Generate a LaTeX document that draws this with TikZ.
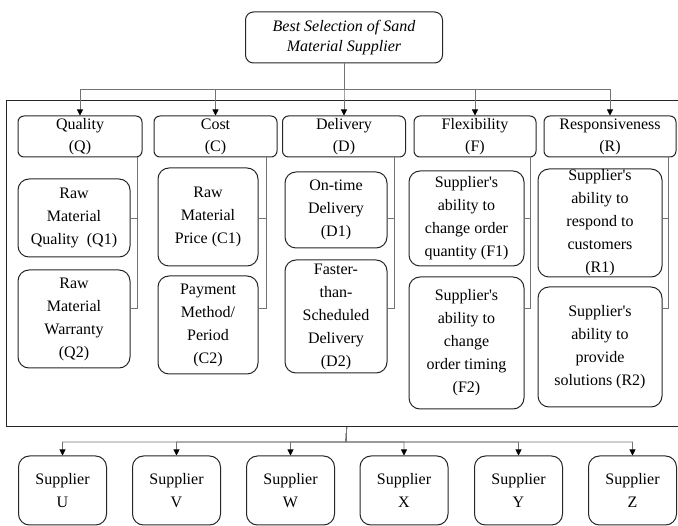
\documentclass[tikz,border=0pt]{standalone}
\usepackage{fontspec}
\setmainfont{Liberation Serif}
\usetikzlibrary{arrows.meta}

\begin{document}
\begin{tikzpicture}[x=1pt,y=-1pt,
    goal/.style={draw=black!85,line width=1pt,rounded corners=8pt,align=center,inner sep=0pt,
      minimum width=197pt,minimum height=51pt,font=\fontsize{16}{20}\selectfont\itshape},
    crit/.style={draw=black!85,line width=1pt,rounded corners=6pt,align=center,inner sep=0pt,
      minimum height=41pt,font=\fontsize{16}{22}\selectfont},
    sub/.style={draw=black!85,line width=1pt,rounded corners=11pt,align=center,inner sep=0pt,
      font=\fontsize{16}{23}\selectfont},
    alt/.style={draw=black!85,line width=1pt,rounded corners=11pt,align=center,inner sep=0pt,
      minimum width=88pt,minimum height=69pt,font=\fontsize{16}{23}\selectfont},
    frame/.style={draw=black!85,line width=1.3pt,inner sep=0pt},
    link/.style={draw=black!55,line width=0.8pt}]
  \useasboundingbox (0,0) rectangle (678,526);
  \draw
    (344,37.5) node[goal] (goal){Best Selection of Sand\\Material Supplier}
    (6,100) node[frame,anchor=north west,minimum width=680pt,minimum height=326pt] (criteria){}
    (80,136.5) node[crit,minimum width=124pt] (Q){Quality\\(Q)}
    (215.5,136.5) node[crit,minimum width=123pt] (C){Cost\\(C)}
    (344,136.5) node[crit,minimum width=123pt] (D){Delivery\\(D)}
    (475,136.5) node[crit,minimum width=122pt] (F){Flexibility\\(F)}
    (610,136.5) node[crit,minimum width=132pt] (R){Responsiveness\\(R)};
  \draw
    (74,218) node[sub,minimum width=112pt,minimum height=78pt] (Q1){Raw\\Material\\Quality\ \ (Q1)}
    (74,319) node[sub,minimum width=112pt,minimum height=98pt] (Q2){Raw\\Material\\Warranty\\(Q2)}
    (208,217) node[sub,minimum width=100pt,minimum height=98pt] (C1){Raw\\Material\\Price (C1)}
    (208,325) node[sub,minimum width=100pt,minimum height=98pt] (C2){Payment\\Method/\\Period\\(C2)}
    (336,210) node[sub,minimum width=102pt,minimum height=76pt] (D1){On-time\\Delivery\\(D1)}
    (336,316.5) node[sub,minimum width=102pt,minimum height=113pt] (D2){Faster-\\than-\\Scheduled\\Delivery\\(D2)}
    (466.5,218.5) node[sub,minimum width=115pt,minimum height=95pt] (F1){Supplier\textquotesingle s\\ability to\\change order\\quantity (F1)}
    (466.5,343) node[sub,minimum width=115pt,minimum height=132pt] (F2){Supplier\textquotesingle s\\ability to\\change\\order timing\\(F2)}
    (600,223) node[sub,minimum width=124pt,minimum height=108pt] (R1){Supplier\textquotesingle s\\ability to\\respond to\\customers\\(R1)}
    (600,347) node[sub,minimum width=124pt,minimum height=120pt] (R2){Supplier\textquotesingle s\\ability to\\provide\\solutions (R2)};
  \draw
    (62.5,490.5) node[alt] (U){Supplier\\U}
    (176.5,490.5) node[alt] (V){Supplier\\V}
    (290.5,490.5) node[alt] (W){Supplier\\W}
    (404,490.5) node[alt] (X){Supplier\\X}
    (518.5,490.5) node[alt] (Y){Supplier\\Y}
    (632.5,490.5) node[alt] (Z){Supplier\\Z};
  \coordinate (topbus) at (344,89);
  \coordinate (lowbus) at (346,442);
  \coordinate (high) at (0,218);
  \coordinate (low) at (0,308);
  \begin{scope}[link,-{Triangle[length=6pt,width=6pt,color=black]}]
    \draw (goal.south) -- (topbus) -| (Q.north);
    \draw (goal.south) -- (topbus) -| (C.north);
    \draw (goal.south) -- (topbus) -| (D.north);
    \draw (goal.south) -- (topbus) -| (F.north);
    \draw (goal.south) -- (topbus) -| (R.north);
    \draw (criteria.south) -- (lowbus) -| (U.north);
    \draw (criteria.south) -- (lowbus) -| (V.north);
    \draw (criteria.south) -- (lowbus) -| (W.north);
    \draw (criteria.south) -- (lowbus) -| (X.north);
    \draw (criteria.south) -- (lowbus) -| (Y.north);
    \draw (criteria.south) -- (lowbus) -| (Z.north);
  \end{scope}
  \begin{scope}[link]
    \draw ([xshift=-5pt]Q.south east) |- (Q1.east |- high);
    \draw ([xshift=-5pt]Q.south east) |- (Q2.east |- low);
    \draw ([xshift=-11pt]C.south east) |- (C1.east |- high);
    \draw ([xshift=-11pt]C.south east) |- (C2.east |- low);
    \draw ([xshift=-12pt]D.south east) |- (D1.east |- high);
    \draw ([xshift=-12pt]D.south east) |- (D2.east |- low);
    \draw ([xshift=-6pt]F.south east) |- (F1.east |- high);
    \draw ([xshift=-6pt]F.south east) |- (F2.east |- low);
    \draw ([xshift=-8pt]R.south east) |- (R1.east |- high);
    \draw ([xshift=-8pt]R.south east) |- (R2.east |- low);
  \end{scope}
\end{tikzpicture}
\end{document}
